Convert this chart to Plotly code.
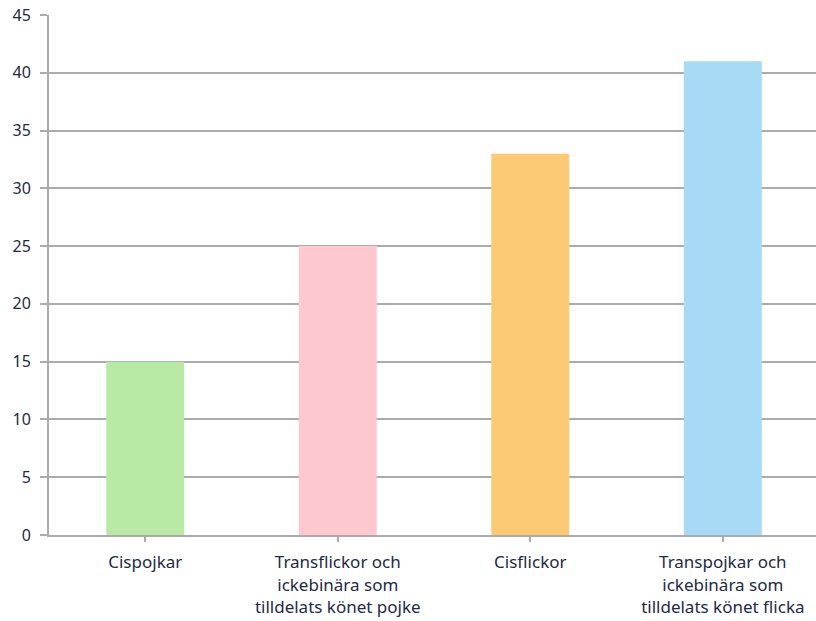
import plotly.graph_objects as go

categories = [
    "Cispojkar",
    "Transflickor och<br>ickebinära som<br>tilldelats könet pojke",
    "Cisflickor",
    "Transpojkar och<br>ickebinära som<br>tilldelats könet flicka",
]
values = [15, 25, 33, 41]
colors = ["#b8eaa6", "#fec8d0", "#fcca75", "#a6daf5"]
y_ticks = [0, 5, 10, 15, 20, 25, 30, 35, 40, 45]

fig = go.Figure(go.Bar(
    x=list(range(len(categories))),
    y=values,
    marker=dict(color=colors, line=dict(width=0)),
    width=0.405,
))

grid = "#ababab"
fig.update_layout(
    width=816, height=621,
    margin=dict(l=49, r=0, t=15, b=86, autoexpand=False),
    paper_bgcolor="white", plot_bgcolor="white",
    showlegend=False,
    font=dict(family="Noto Sans", size=17, color="#1e2a44"),
)
fig.update_xaxes(
    range=[-0.5, 3.484],
    automargin=False,
    tickmode="array",
    tickvals=list(range(len(categories))),
    ticktext=categories,
    showgrid=False,
    showline=True, linecolor=grid, linewidth=2,
    ticks="outside", ticklen=5, tickcolor=grid, tickwidth=2,
    tickson="boundaries",
    ticklabelstandoff=6,
)
fig.update_yaxes(
    range=[0, 45],
    automargin=False,
    tickvals=y_ticks,
    tickfont=dict(size=16),
    showgrid=True, gridcolor=grid, gridwidth=2,
    showline=True, linecolor=grid, linewidth=2,
    ticks="outside", ticklen=7, tickcolor=grid, tickwidth=2,
    zeroline=False,
    ticklabelstandoff=6,
)
fig.write_html("out.html")
